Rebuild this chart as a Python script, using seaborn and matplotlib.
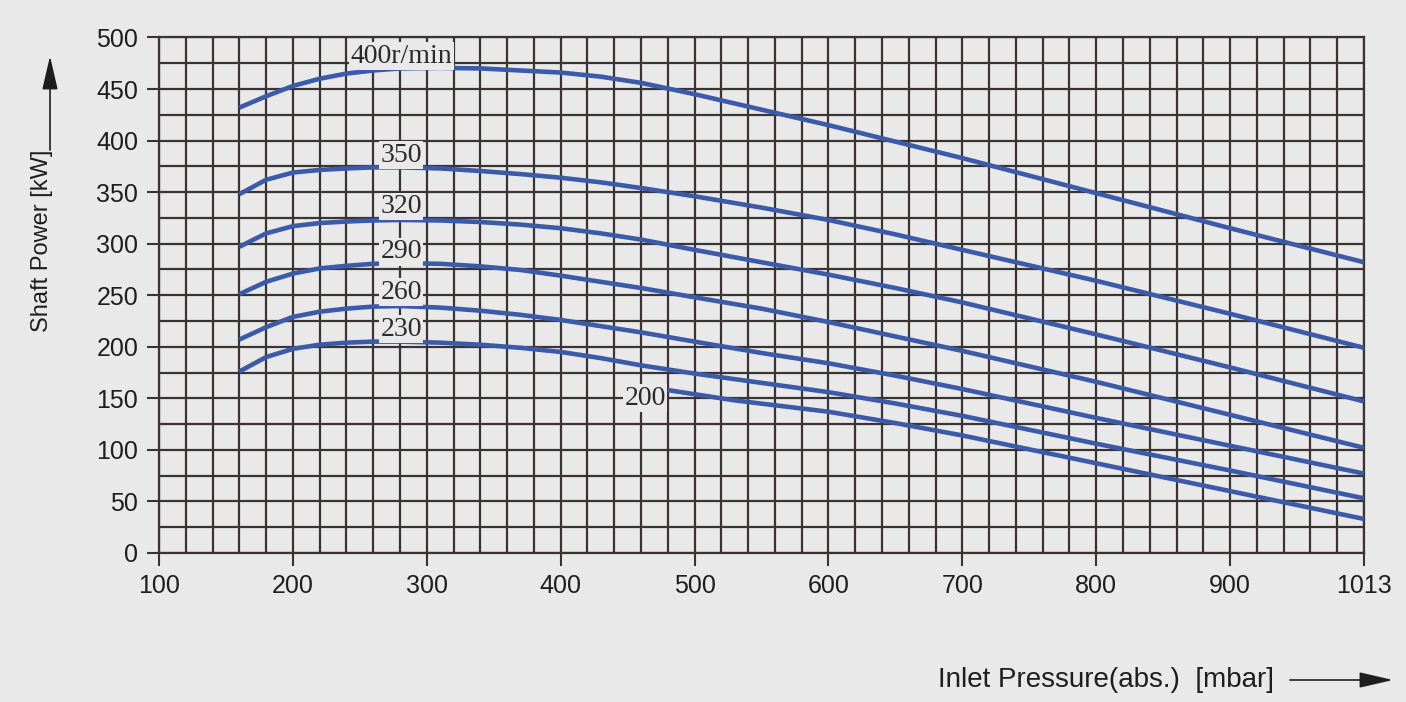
import pandas as pd
import matplotlib.pyplot as plt
import seaborn as sns

# values: inlet pressure [mbar] -> shaft power [kW]
pressure = [160, 180, 200, 220, 240, 260, 280, 310, 340, 370, 400, 430, 460,
            500, 550, 600, 650, 700, 800, 900, 1000]
power_400 = [432, 443, 453, 460, 465, 468, 470, 470.5, 470, 468, 466, 462, 456,
             445, 430, 415, 399, 383, 349, 315, 282]
power_350 = [348, 362, 369, 371.5, 373, 374, 374, 373, 370.5, 367.5, 364, 359.5, 354,
             346, 335, 323, 309, 294, 264, 232, 199]
power_320 = [297, 310, 317, 320, 321.5, 322.5, 323, 322.5, 321, 318.5, 315, 310, 304,
             294, 282, 270, 257, 243, 212, 180, 147]
power_290 = [251, 263, 271, 276, 278.5, 280.5, 281, 280.5, 278, 274.5, 269, 263, 257,
             248, 237, 224, 210, 196, 166, 134, 102]
power_260 = [207, 219, 229, 234, 237, 239, 239.5, 238, 235, 231, 226, 220, 214,
             205, 194, 184, 172, 159, 131, 104, 77]
power_230 = [176, 190, 198, 202, 204, 205, 205, 204, 202, 199, 195, 189, 182,
             174, 165, 156, 145, 133, 106, 80, 53]
pressure_200 = [480, 530, 600, 650, 700, 800, 900, 1000]
power_200 = [158, 148, 137, 126, 114, 87, 60, 33]

speeds = [400, 350, 320, 290, 260, 230, 200]
curve_labels = ['400r/min', '350', '320', '290', '260', '230', '200']

x_ticks = [100, 200, 300, 400, 500, 600, 700, 800, 900, 1000]
x_tick_labels = ['100', '200', '300', '400', '500', '600', '700', '800', '900', '1013']
y_ticks = [0, 50, 100, 150, 200, 250, 300, 350, 400, 450, 500]

rows = []
for spd, ys in zip(speeds[:-1], [power_400, power_350, power_320, power_290, power_260, power_230]):
    for x, y in zip(pressure, ys):
        rows.append({'speed': spd, 'pressure': x, 'power': y})
for x, y in zip(pressure_200, power_200):
    rows.append({'speed': 200, 'pressure': x, 'power': y})
df = pd.DataFrame(rows)

BG = '#e9e9e9'
GRID = '#3a3333'
BLUE = '#3b5ba9'
TXT = '#1e1e1e'

sns.set_theme(style='white')
plt.rcParams['font.family'] = ['Liberation Sans', 'DejaVu Sans']

fig = plt.figure(figsize=(14.06, 7.02), dpi=100, facecolor=BG)
ax = fig.add_axes([0.1131, 0.2123, 0.8570, 0.7343], facecolor=BG)

sns.lineplot(data=df, x='pressure', y='power', hue='speed', units='speed', estimator=None,
             palette={s: BLUE for s in speeds}, legend=False, linewidth=3.3, ax=ax,
             solid_capstyle='butt', solid_joinstyle='round', zorder=3)

ax.set_xlim(100, 1000)
ax.set_ylim(0, 500)
ax.set_xticks(x_ticks)
ax.set_xticklabels(x_tick_labels)
ax.set_yticks(y_ticks)
ax.set_xticks(range(100, 1001, 20), minor=True)
ax.set_yticks(range(0, 501, 25), minor=True)
ax.grid(True, which='both', color=GRID, linewidth=1.6, zorder=1)
ax.set_axisbelow(True)
ax.tick_params(which='major', length=9, width=1.5, color=GRID, pad=6,
               labelsize=18, labelcolor=TXT, bottom=True, left=True)
ax.tick_params(which='minor', length=0)
for sp in ax.spines.values():
    sp.set_color(GRID)
    sp.set_linewidth(1.6)
ax.set_xlabel('')
ax.set_ylabel('')

# curve labels
label_pos = [(281, 482), (281, 386), (281, 336), (281, 292), (281, 253), (281, 217), (463, 150)]
for txt, (lx, ly) in zip(curve_labels, label_pos):
    ax.text(lx, ly, txt, ha='center', va='center', fontsize=20, color='#2a2a2a',
            family=['Liberation Serif', 'DejaVu Serif'], zorder=4,
            bbox=dict(boxstyle='square,pad=0.05', fc=BG, ec='none'))

# axis titles with arrows
H = 702
fig.text(42 / 1406, 1 - 241 / H, 'Shaft Power [kW]', rotation=90, ha='center', va='center',
         fontsize=17, color=TXT)
ax.annotate('', xy=(50, H - 56), xytext=(50, H - 150), xycoords='figure pixels',
            textcoords='figure pixels',
            arrowprops=dict(arrowstyle='-|>,head_length=1.3,head_width=0.3', color=TXT,
                            lw=1.2, mutation_scale=16, shrinkA=0, shrinkB=0))
fig.text(938 / 1406, 1 - 680 / H, 'Inlet Pressure(abs.)  [mbar]', ha='left', va='center',
         fontsize=20, color=TXT)
ax.annotate('', xy=(1393, H - 680), xytext=(1290, H - 680), xycoords='figure pixels',
            textcoords='figure pixels',
            arrowprops=dict(arrowstyle='-|>,head_length=1.3,head_width=0.3', color=TXT,
                            lw=1.2, mutation_scale=16, shrinkA=0, shrinkB=0))

fig.savefig('out.png', dpi=100, facecolor=BG)
